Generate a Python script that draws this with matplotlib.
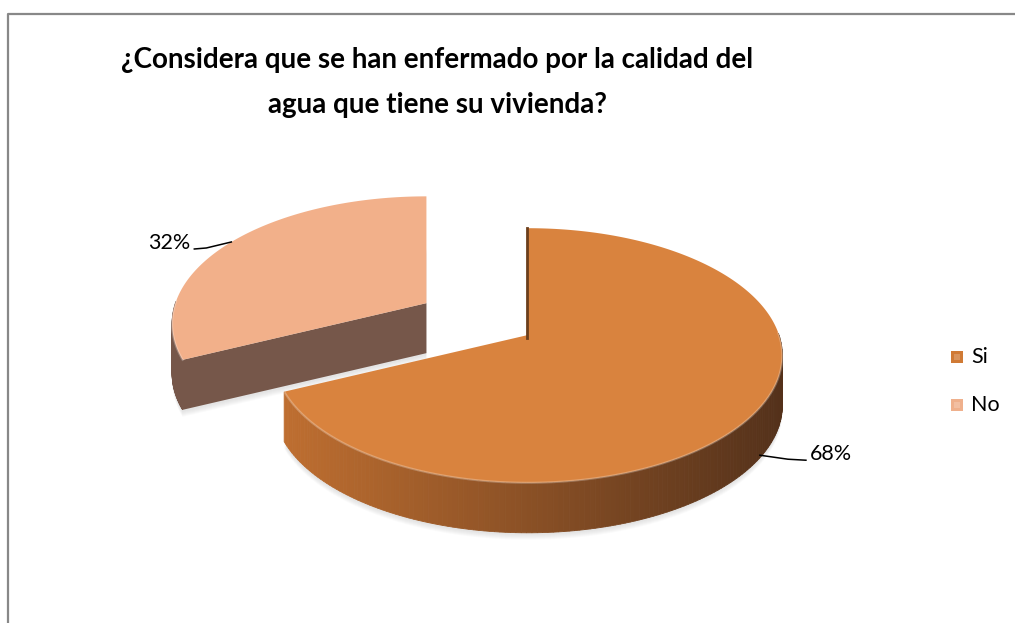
import numpy as np
import matplotlib.pyplot as plt
from matplotlib.colors import to_rgb
from matplotlib.patches import Polygon, Rectangle


categories = ["Si", "No"]
values = [68, 32]
pct_labels = ["68%", "32%"]
title_lines = ["¿Considera que se han enfermado por la calidad del",
               "agua que tiene su vivienda?"]

# look of the 3d pie (pixels, y grows downward)
CX, CY = 528, 335
RX, RY = 251, 124
PERSP = 0.161
DEPTH = 50
EXPLODE = [0.0, 0.5]
TOP = ["#D9833E", "#F2B08A"]
SIDE_LIGHT = ["#BE6E30", "#76574A"]
SIDE_DARK = ["#52301A", "#6E5040"]
LEG = ["#D07A35", "#EFB08C"]

plt.rcParams["font.family"] = ["Lato", "DejaVu Sans"]


def project(u, v, z=0.0):
    s = 1.0 / (1.0 + PERSP * v)
    return CX + u * RX * s, CY - v * RY * s + z


def side_color(i, x):
    a = np.clip((x - 285) / (790 - 285), 0, 1)
    return np.array(to_rgb(SIDE_LIGHT[i])) * (1 - a) + np.array(to_rgb(SIDE_DARK[i])) * a


fig = plt.figure(figsize=(10.16, 6.23), dpi=100)
ax = fig.add_axes([0, 0, 1, 1])
ax.set_xlim(0, 1016)
ax.set_ylim(623, 0)
ax.axis("off")

# slice angles, clockwise from twelve o'clock; pulled-out slices are
# shifted on screen
spans = 2 * np.pi * np.array(values) / sum(values)
slices = []
t0 = np.pi / 2
for i, sp in enumerate(spans):
    t1 = t0 - sp
    mid = t0 - sp / 2
    ox, oy = project(EXPLODE[i] * np.cos(mid), EXPLODE[i] * np.sin(mid))
    slices.append((t1, t0, mid, ox - CX, oy - CY))
    t0 = t1


def pt(i, t, z=0.0):
    _, _, _, dx, dy = slices[i]
    x, y = project(np.cos(t), np.sin(t), z)
    return x + dx, y + dy


def draw_slice(i):
    t1, t0, mid, dx, dy = slices[i]
    t = np.linspace(t1, t0, 240)
    ax_, ay_ = CX + dx, CY + dy

    # soft shadow under the slice
    bx, by = pt(i, t, DEPTH)
    for k in range(6):
        pts = np.column_stack([np.r_[ax_, bx], np.r_[ay_ + DEPTH, by] + 2 + k])
        ax.add_patch(Polygon(pts, closed=True, fc="#808080", ec="none", alpha=0.035))

    # flat cut faces that look toward the viewer
    for te, sgn in ((t1, -1), (t0, 1)):
        if np.sin(te + sgn * np.pi / 2) < -0.05:
            ex, ey = pt(i, te)
            pts = [(ax_, ay_), (ex, ey), (ex, ey + DEPTH), (ax_, ay_ + DEPTH)]
            ax.add_patch(Polygon(pts, closed=True, fc=SIDE_LIGHT[i], ec="none"))

    # outer wall, front half only
    tf = t[np.sin(t) < 0.02]
    if tf.size > 1:
        px, py = pt(i, tf)
        for j in range(len(tf) - 1):
            c = side_color(i, px[j])
            pts = [(px[j], py[j]), (px[j + 1], py[j + 1]),
                   (px[j + 1], py[j + 1] + DEPTH), (px[j], py[j] + DEPTH)]
            ax.add_patch(Polygon(pts, closed=True, fc=c, ec=c, lw=0.6))

    # top face
    tx, ty = pt(i, t)
    pts = np.column_stack([np.r_[ax_, tx], np.r_[ay_, ty]])
    ax.add_patch(Polygon(pts, closed=True, fc=TOP[i], ec="none"))
    if tf.size > 1:
        px, py = pt(i, tf)
        ax.plot(px, py, color="white", alpha=0.25, lw=1.5)


draw_slice(1)
draw_slice(0)

# dark seam along the Si cut at twelve o'clock
t1, t0, mid, dx, dy = slices[0]
ex, ey = pt(0, t0)
ax.plot([CX + dx - 1, ex - 1], [CY + dy + 3, ey], color="#6B3E1C", lw=2)

# percentage labels with leader lines
for i, lab in enumerate(pct_labels):
    t1, t0, mid, dx, dy = slices[i]
    z = DEPTH * 0.95 if np.sin(mid) < 0 else 0.0
    px, py = pt(i, mid, z)
    if np.cos(mid) > 0:
        xs = [px, px + 28, px + 46]
        ys = [py, py + 4, py + 5]
        ax.text(xs[-1] + 4, ys[-1] - 6, lab, fontsize=15.5, ha="left", va="center")
    else:
        xs = [px, px - 25, px - 37]
        ys = [py, py + 6, py + 7]
        ax.text(xs[-1] - 4, ys[-1] - 6, lab, fontsize=15.5, ha="right", va="center")
    ax.plot(xs, ys, color="black", lw=1.1)

# legend
for i, cat in enumerate(categories):
    y = 357 + i * 48
    ax.add_patch(Rectangle((951, y - 6), 12, 12, fc=LEG[i], ec="none"))
    ax.add_patch(Rectangle((954, y - 3), 6, 6, fc="white", ec="none", alpha=0.2))
    ax.text(971, y, cat, fontsize=15.5, va="center", ha="left")

for k, line in enumerate(title_lines):
    ax.text(437, 68 + 45 * k, line, fontsize=20, fontweight="bold",
            ha="center", va="baseline")

# chart frame (only top and left edges show)
ax.plot([7.5, 7.5, 1015], [623, 13.5, 13.5], color="#888888", lw=1.6,
        solid_capstyle="butt")

fig.savefig("out.png", dpi=100)
